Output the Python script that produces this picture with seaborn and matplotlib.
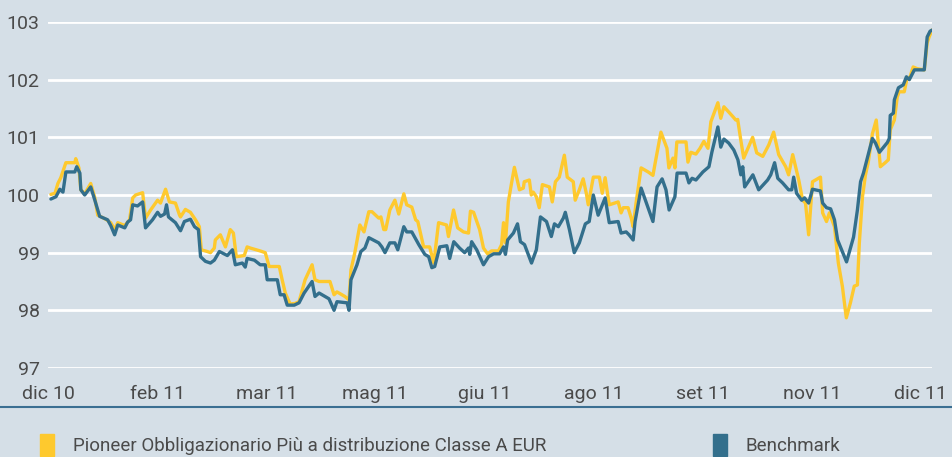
import seaborn as sns
import matplotlib.pyplot as plt
import matplotlib.patches as mpatches
from matplotlib.lines import Line2D
import pandas as pd

# days since 30/12/2010
fund_days = [0.0, 1.7, 2.9, 4.1, 6.2, 9.9, 10.3, 11.6, 12.4, 14.0, 16.5, 18.2, 19.4, 22.7, 24.8,
             26.4, 27.7, 30.6, 32.6, 33.9, 35.1, 38.0, 39.2, 41.3, 44.2, 45.4, 47.5, 49.1, 51.6,
             53.3, 53.7, 55.7, 57.8, 59.9, 61.5, 62.3, 64.8, 66.1, 67.7, 68.1, 70.2, 72.3, 74.3,
             75.6, 76.8, 80.1, 81.3, 82.6, 86.7, 88.8, 90.4, 94.6, 95.8, 97.1, 99.1, 101.2, 102.8,
             105.3, 108.2, 109.4, 111.1, 115.6, 117.3, 118.5, 121.8, 123.5, 124.3, 125.9, 128.0,
             129.7, 131.7, 133.0, 135.8, 136.7, 137.9, 138.7, 140.4, 142.5, 144.1, 146.2, 147.4,
             149.5, 151.1, 152.0, 154.4, 156.9, 158.6, 160.6, 163.9, 164.7, 166.8, 168.5, 170.9,
             173.0, 173.8, 175.1, 177.6, 179.2, 180.9, 182.5, 185.4, 186.7, 187.5, 188.3, 189.5,
             190.8, 192.0, 194.1, 195.7, 196.1, 198.2, 199.0, 199.8, 201.1, 202.3, 203.6, 206.5,
             207.7, 209.0, 210.6, 212.7, 213.9, 216.4, 217.2, 218.9, 220.5, 221.8, 222.6, 224.7,
             227.2, 228.4, 229.6, 231.3, 235.0, 236.2, 237.1, 239.1, 240.4, 241.2, 242.4, 244.5,
             247.4, 249.4, 250.3, 252.7, 255.2, 256.0, 257.7, 258.5, 259.3, 263.1, 263.9, 265.1,
             267.2, 268.9, 270.5, 272.2, 273.4, 276.3, 277.5, 278.8, 282.5, 283.7, 284.5, 285.8,
             287.0, 290.7, 292.4, 294.9, 297.4, 299.4, 301.5, 304.4, 305.6, 307.3, 309.8, 311.4,
             312.6, 313.9, 315.5, 318.8, 319.7, 321.3, 322.5, 324.6, 326.2, 327.9, 328.3, 329.5,
             331.2, 332.8, 334.1, 334.9, 336.2, 337.4, 338.6, 340.3, 341.9, 343.6, 345.6, 346.9,
             347.7, 349.4, 350.6, 351.4, 353.5, 354.7, 355.6, 357.2, 358.9, 361.8, 363.0, 363.8,
             365.0]
fund_values = [100.01, 100.03, 100.2, 100.3, 100.56, 100.56, 100.63, 100.47, 100.09, 100.02, 100.2,
               99.95, 99.65, 99.58, 99.52, 99.4, 99.52, 99.47, 99.57, 99.95, 100.0, 100.04, 99.6,
               99.74, 99.91, 99.86, 100.1, 99.88, 99.86, 99.65, 99.62, 99.75, 99.7, 99.57, 99.45,
               99.05, 99.02, 99.0, 99.08, 99.22, 99.31, 99.1, 99.4, 99.34, 98.93, 98.95, 99.1,
               99.08, 99.03, 99.0, 98.76, 98.76, 98.53, 98.3, 98.11, 98.12, 98.15, 98.53, 98.79,
               98.53, 98.5, 98.5, 98.27, 98.32, 98.24, 98.18, 98.7, 99.0, 99.48, 99.36, 99.71,
               99.71, 99.6, 99.62, 99.4, 99.4, 99.74, 99.91, 99.67, 100.02, 99.83, 99.79, 99.57,
               99.54, 99.1, 99.1, 98.82, 99.52, 99.48, 99.28, 99.74, 99.43, 99.36, 99.34, 99.72,
               99.7, 99.4, 99.08, 98.98, 99.03, 99.03, 99.14, 99.52, 99.17, 99.88, 100.2, 100.48,
               100.09, 100.12, 100.23, 100.26, 100.0, 100.05, 99.97, 99.78, 100.18, 100.14, 99.88,
               100.23, 100.31, 100.69, 100.31, 100.23, 99.91, 100.09, 100.28, 100.03, 99.83, 100.31,
               100.31, 100.03, 100.3, 99.83, 99.88, 99.69, 99.78, 99.78, 99.6, 99.45, 99.86, 100.47,
               100.4, 100.34, 100.55, 101.09, 100.81, 100.47, 100.64, 100.47, 100.92, 100.92, 100.57,
               100.74, 100.71, 100.81, 100.93, 100.81, 101.27, 101.6, 101.33, 101.53, 101.36, 101.3,
               101.31, 100.95, 100.64, 101.0, 100.73, 100.67, 100.87, 101.09, 100.7, 100.49, 100.35,
               100.7, 100.26, 99.91, 99.86, 99.31, 100.23, 100.31, 99.69, 99.54, 99.69, 99.45,
               98.82, 98.41, 98.27, 97.87, 98.13, 98.42, 98.44, 99.17, 99.97, 100.34, 100.57,
               101.06, 101.3, 100.49, 100.56, 100.61, 101.13, 101.3, 101.7, 101.79, 101.79, 102.03,
               102.01, 102.22, 102.19, 102.17, 102.64, 102.74, 102.86]

bench_days = [0.0, 2.1, 3.7, 5.0, 6.2, 9.9, 10.7, 12.0, 12.4, 14.0, 16.5, 18.2, 20.2, 23.5, 24.8,
              26.4, 27.7, 30.6, 31.8, 33.0, 33.9, 35.9, 38.0, 39.2, 42.1, 44.2, 45.4, 47.1, 47.9,
              48.7, 51.6, 53.7, 55.3, 57.8, 59.5, 61.1, 62.0, 64.0, 66.1, 67.7, 69.8, 73.1, 75.2,
              76.4, 79.3, 80.5, 81.3, 84.3, 86.7, 88.8, 89.6, 93.8, 95.0, 96.6, 97.9, 100.8, 102.8,
              104.9, 108.2, 109.4, 111.1, 115.2, 117.3, 118.5, 122.7, 123.5, 124.3, 126.8, 128.4,
              130.1, 131.7, 135.8, 137.1, 138.4, 140.4, 142.5, 143.7, 146.2, 147.4, 149.5, 152.4,
              154.9, 156.5, 157.8, 159.0, 161.1, 164.0, 165.2, 166.9, 169.3, 171.4, 173.0, 173.5,
              174.3, 176.4, 179.2, 181.3, 183.4, 185.9, 187.5, 188.3, 189.2, 191.6, 193.3, 194.5,
              196.2, 199.1, 201.1, 202.8, 205.3, 207.3, 208.6, 210.2, 212.3, 213.1, 214.8, 216.8,
              218.9, 221.4, 223.0, 224.7, 226.7, 229.6, 231.3, 235.0, 236.2, 238.3, 239.5, 241.2,
              242.0, 244.5, 247.4, 249.4, 251.1, 253.2, 254.8, 256.1, 258.5, 259.4, 263.1, 264.3,
              265.6, 267.2, 270.1, 272.6, 273.8, 276.3, 277.5, 278.8, 280.8, 282.9, 284.6, 285.8,
              286.6, 287.4, 290.8, 293.2, 296.9, 298.2, 299.8, 301.1, 303.1, 305.6, 306.9, 307.7,
              308.9, 311.0, 312.2, 313.9, 315.5, 318.8, 319.7, 321.3, 323.0, 324.6, 325.9, 329.6,
              332.5, 334.1, 335.4, 336.6, 340.3, 341.6, 343.2, 346.5, 347.3, 347.7, 349.0, 349.4,
              351.1, 353.1, 354.4, 355.6, 357.7, 361.8, 363.0, 364.2, 365.0]
bench_values = [99.93, 99.97, 100.1, 100.05, 100.4, 100.4, 100.49, 100.38, 100.09, 100.0, 100.14,
                99.91, 99.63, 99.57, 99.47, 99.31, 99.48, 99.43, 99.53, 99.57, 99.83, 99.81, 99.88,
                99.43, 99.57, 99.7, 99.63, 99.67, 99.83, 99.62, 99.52, 99.38, 99.54, 99.58, 99.45,
                99.4, 98.93, 98.85, 98.82, 98.87, 99.02, 98.95, 99.05, 98.79, 98.82, 98.75, 98.9,
                98.87, 98.79, 98.79, 98.53, 98.53, 98.27, 98.27, 98.09, 98.09, 98.13, 98.3, 98.5,
                98.24, 98.3, 98.2, 98.0, 98.15, 98.13, 98.0, 98.53, 98.79, 99.02, 99.08, 99.26,
                99.17, 99.1, 99.0, 99.17, 99.17, 99.05, 99.45, 99.36, 99.36, 99.14, 98.97, 98.93,
                98.74, 98.76, 99.1, 99.12, 98.9, 99.19, 99.08, 99.0, 99.08, 98.97, 99.19, 99.05,
                98.79, 98.93, 98.98, 98.98, 99.1, 98.97, 99.22, 99.34, 99.5, 99.19, 99.14, 98.82,
                99.05, 99.62, 99.54, 99.28, 99.5, 99.45, 99.6, 99.7, 99.4, 99.0, 99.17, 99.5,
                99.54, 100.0, 99.65, 99.95, 99.52, 99.54, 99.34, 99.36, 99.31, 99.22, 99.54, 100.12,
                99.78, 99.54, 100.14, 100.28, 100.09, 99.74, 99.97, 100.38, 100.38, 100.21, 100.29,
                100.26, 100.4, 100.49, 100.74, 101.18, 100.83, 100.97, 100.9, 100.78, 100.61, 100.35,
                100.49, 100.14, 100.35, 100.09, 100.26, 100.35, 100.56, 100.29, 100.21, 100.09,
                100.09, 100.31, 100.03, 99.91, 99.95, 99.86, 100.1, 100.07, 99.86, 99.78, 99.76,
                99.57, 99.22, 98.84, 99.27, 99.74, 100.23, 100.38, 100.98, 100.9, 100.74, 100.91,
                100.98, 101.38, 101.42, 101.65, 101.86, 101.91, 102.05, 102.0, 102.17, 102.17,
                102.74, 102.84, 102.86]

tick_days = [-1.2, 44.0, 89.2, 134.4, 179.6, 224.8, 270.0, 315.2, 360.4]
tick_labels = ["dic 10", "feb 11", "mar 11", "mag 11", "giu 11", "ago 11", "set 11", "nov 11", "dic 11"]
y_ticks = [97, 98, 99, 100, 101, 102, 103]

fund_name = "Pioneer Obbligazionario Più a distribuzione Classe A EUR"
bench_name = "Benchmark"
yellow = "#fec92e"
blue = "#336f8c"
bg = "#d5dfe7"
text_col = "#4a4a4a"

df = pd.concat([
    pd.DataFrame({"day": fund_days, "value": fund_values, "serie": fund_name}),
    pd.DataFrame({"day": bench_days, "value": bench_values, "serie": bench_name}),
])

sns.set_theme(style="white")
plt.rcParams["font.family"] = ["Roboto", "DejaVu Sans"]

fig = plt.figure(figsize=(9.53, 4.57), dpi=100, facecolor=bg)
ax = fig.add_axes([48 / 953, 89 / 457, 884 / 953, 346 / 457])
ax.set_facecolor(bg)

sns.lineplot(data=df, x="day", y="value", hue="serie", palette={fund_name: yellow, bench_name: blue},
             estimator=None, sort=False, linewidth=2.4, legend=False, ax=ax)

ax.set_xlim(0, 365)
ax.set_ylim(97, 103)
ax.set_yticks(y_ticks)
ax.set_xticks(tick_days)
ax.set_xticklabels(tick_labels)
ax.grid(axis="y", color="white", linewidth=2)
ax.set_axisbelow(True)
for s in ax.spines.values():
    s.set_visible(False)
ax.tick_params(axis="both", length=0, labelsize=14, colors=text_col)
ax.tick_params(axis="y", pad=6)
ax.tick_params(axis="x", pad=12)
ax.set_xlabel("")
ax.set_ylabel("")

# separator line under the axis labels
fig.add_artist(Line2D([0, 1], [50 / 457, 50 / 457], color="#3b6f92", linewidth=1.5,
                      transform=fig.transFigure))

# legend
fig.legend(handles=[mpatches.Patch(color=yellow, label=fund_name)], loc="center left",
           bbox_to_anchor=(40 / 953, 12 / 457), frameon=False, fontsize=13.5, borderpad=0,
           borderaxespad=0, handlelength=0.75, handleheight=1.4, handletextpad=1.0,
           labelcolor=text_col)
fig.legend(handles=[mpatches.Patch(color=blue, label=bench_name)], loc="center left",
           bbox_to_anchor=(713 / 953, 12 / 457), frameon=False, fontsize=13.5, borderpad=0,
           borderaxespad=0, handlelength=0.75, handleheight=1.4, handletextpad=1.0,
           labelcolor=text_col)

fig.savefig("out.png", dpi=100, facecolor=bg)
